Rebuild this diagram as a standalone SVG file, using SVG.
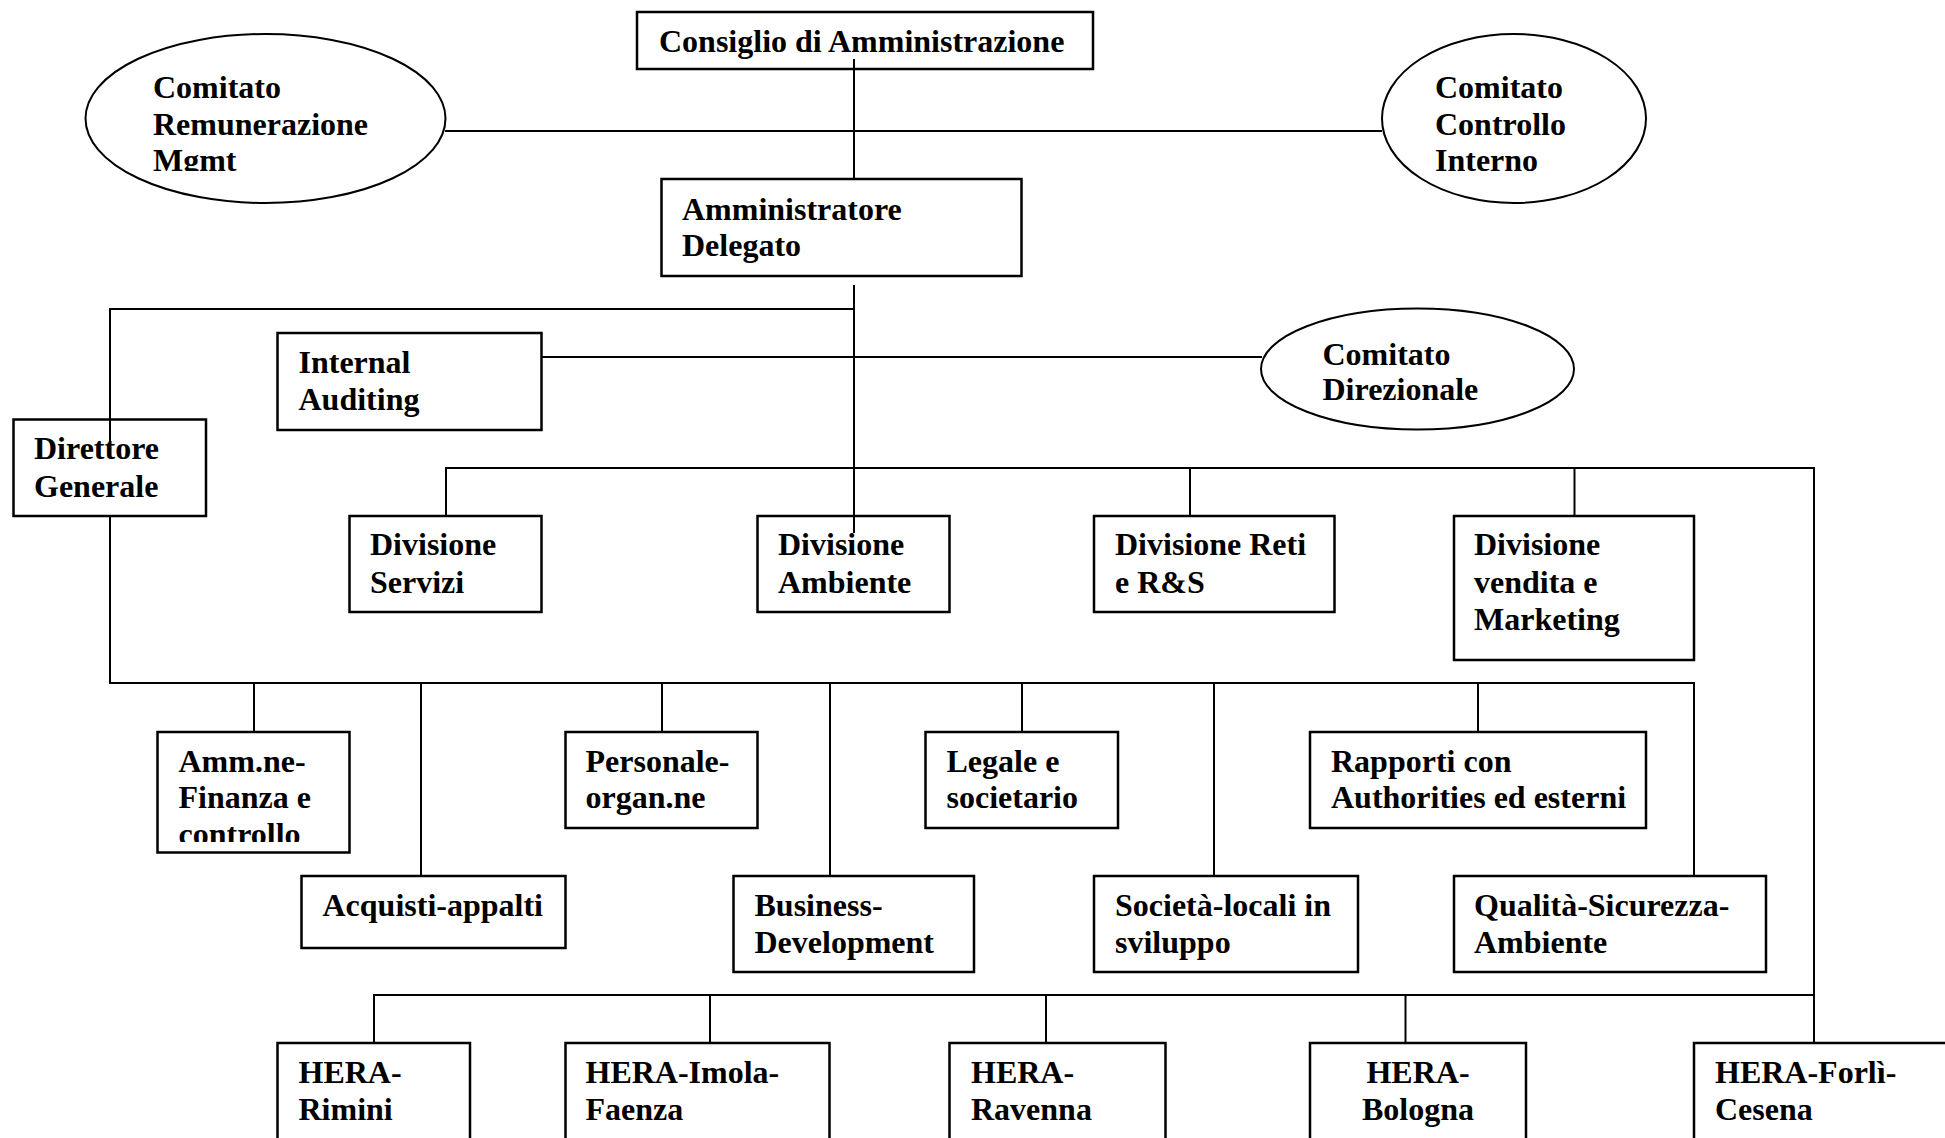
<svg xmlns="http://www.w3.org/2000/svg" width="1945" height="1138" viewBox="0 0 1945 1138">
<style>
  .box { fill: none; stroke: #000; stroke-width: 2.5; }
  .ell { fill: none; stroke: #000; stroke-width: 2; }
  .ln { fill: none; stroke: #000; stroke-width: 2; }
  text { font-family: "Liberation Serif", "Times New Roman", serif; font-weight: bold; font-size: 32px; fill: #000; }
</style>
<defs>
  <clipPath id="clipMgmt"><rect x="0" y="0" width="500" height="171"/></clipPath>
  <clipPath id="clipAmm"><rect x="150" y="700" width="210" height="142"/></clipPath>
</defs>
<rect x="0" y="0" width="1945" height="1138" fill="#fff"/>
<g id="connectors">
  <path class="ln" d="M854 59 V179"/>
  <path class="ln" d="M445 131 H1382"/>
  <path class="ln" d="M854 285 V533"/>
  <path class="ln" d="M854 309 H110 V452"/>
  <path class="ln" d="M110 516 V683 H1694 V876"/>
  <path class="ln" d="M541 357 H1262"/>
  <path class="ln" d="M446 516 V468 H1814 V1043"/>
  <path class="ln" d="M1190 468 V516"/>
  <path class="ln" d="M1574.5 468 V516"/>
  <path class="ln" d="M254 683 V732"/>
  <path class="ln" d="M421 683 V876"/>
  <path class="ln" d="M662 683 V732"/>
  <path class="ln" d="M830 683 V876"/>
  <path class="ln" d="M1022 683 V732"/>
  <path class="ln" d="M1214 683 V876"/>
  <path class="ln" d="M1478 683 V732"/>
  <path class="ln" d="M374 1043 V995 H1814"/>
  <path class="ln" d="M710 995 V1043"/>
  <path class="ln" d="M1046 995 V1043"/>
  <path class="ln" d="M1405.5 995 V1043"/>
</g>
<g id="consiglio">
  <rect class="box" x="637" y="12" width="456" height="57"/>
  <text x="659" y="52">Consiglio di Amministrazione</text>
</g>
<g id="comitato-remunerazione">
  <ellipse class="ell" cx="265.5" cy="118.5" rx="180" ry="84.5"/>
  <text x="153" y="98">Comitato</text>
  <text x="153" y="134.5">Remunerazione</text>
  <text x="153" y="171" clip-path="url(#clipMgmt)">Mgmt</text>
</g>
<g id="comitato-controllo">
  <ellipse class="ell" cx="1514" cy="118.5" rx="132" ry="84.5"/>
  <text x="1435" y="98">Comitato</text>
  <text x="1435" y="134.5">Controllo</text>
  <text x="1435" y="171">Interno</text>
</g>
<g id="amministratore">
  <rect class="box" x="661.5" y="179" width="360" height="97"/>
  <text x="682" y="220">Amministratore</text>
  <text x="682" y="256">Delegato</text>
</g>
<g id="internal-auditing">
  <rect class="box" x="277.5" y="333" width="264" height="97"/>
  <text x="298.5" y="373">Internal</text>
  <text x="298.5" y="410">Auditing</text>
</g>
<g id="comitato-direzionale">
  <ellipse class="ell" cx="1417.5" cy="369" rx="156.5" ry="60.5"/>
  <text x="1322.5" y="365">Comitato</text>
  <text x="1322.5" y="400">Direzionale</text>
</g>
<g id="direttore">
  <rect class="box" x="13.5" y="419.5" width="192.5" height="96.5"/>
  <text x="34" y="459">Direttore</text>
  <text x="34" y="497">Generale</text>
</g>
<g id="div-servizi">
  <rect class="box" x="349.5" y="516" width="192" height="96"/>
  <text x="370" y="555">Divisione</text>
  <text x="370" y="593">Servizi</text>
</g>
<g id="div-ambiente">
  <rect class="box" x="757.5" y="516" width="192" height="96"/>
  <text x="778" y="555">Divisione</text>
  <text x="778" y="593">Ambiente</text>
</g>
<g id="div-reti">
  <rect class="box" x="1094" y="516" width="240.5" height="96"/>
  <text x="1115" y="555">Divisione Reti</text>
  <text x="1115" y="593">e R&amp;S</text>
</g>
<g id="div-vendita">
  <rect class="box" x="1454" y="516" width="240" height="144"/>
  <text x="1474" y="555">Divisione</text>
  <text x="1474" y="593">vendita e</text>
  <text x="1474" y="630">Marketing</text>
</g>
<g id="amm-finanza">
  <rect class="box" x="157.5" y="732" width="192" height="120.5"/>
  <g clip-path="url(#clipAmm)">
    <text x="178.5" y="772">Amm.ne-</text>
    <text x="178.5" y="808">Finanza e</text>
    <text x="178.5" y="845">controllo</text>
  </g>
</g>
<g id="personale">
  <rect class="box" x="565.5" y="732" width="192" height="96"/>
  <text x="585.5" y="772">Personale-</text>
  <text x="585.5" y="808">organ.ne</text>
</g>
<g id="legale">
  <rect class="box" x="925.5" y="732" width="192.5" height="96"/>
  <text x="946.5" y="772">Legale e</text>
  <text x="946.5" y="808">societario</text>
</g>
<g id="rapporti">
  <rect class="box" x="1310" y="732" width="336" height="96"/>
  <text x="1331" y="772">Rapporti con</text>
  <text x="1331" y="808">Authorities ed esterni</text>
</g>
<g id="acquisti">
  <rect class="box" x="301.5" y="876" width="264" height="72"/>
  <text x="322.5" y="916">Acquisti-appalti</text>
</g>
<g id="business">
  <rect class="box" x="733.5" y="876" width="240.5" height="96"/>
  <text x="754.5" y="916">Business-</text>
  <text x="754.5" y="953">Development</text>
</g>
<g id="societa">
  <rect class="box" x="1094" y="876" width="264" height="96"/>
  <text x="1115" y="916">Società-locali in</text>
  <text x="1115" y="953">sviluppo</text>
</g>
<g id="qualita">
  <rect class="box" x="1454" y="876" width="312" height="96"/>
  <text x="1474" y="916">Qualità-Sicurezza-</text>
  <text x="1474" y="953">Ambiente</text>
</g>
<g id="hera-rimini">
  <rect class="box" x="277.5" y="1043" width="192.5" height="120"/>
  <text x="298.5" y="1083">HERA-</text>
  <text x="298.5" y="1120">Rimini</text>
</g>
<g id="hera-imola">
  <rect class="box" x="565.5" y="1043" width="264" height="120"/>
  <text x="585.5" y="1083">HERA-Imola-</text>
  <text x="585.5" y="1120">Faenza</text>
</g>
<g id="hera-ravenna">
  <rect class="box" x="949.5" y="1043" width="216" height="120"/>
  <text x="971" y="1083">HERA-</text>
  <text x="971" y="1120">Ravenna</text>
</g>
<g id="hera-bologna">
  <rect class="box" x="1310" y="1043" width="216" height="120"/>
  <text x="1418" y="1083" text-anchor="middle">HERA-</text>
  <text x="1418" y="1120" text-anchor="middle">Bologna</text>
</g>
<g id="hera-forli">
  <rect class="box" x="1694" y="1043" width="300" height="120"/>
  <text x="1715" y="1083">HERA-Forlì-</text>
  <text x="1715" y="1120">Cesena</text>
</g>
</svg>
